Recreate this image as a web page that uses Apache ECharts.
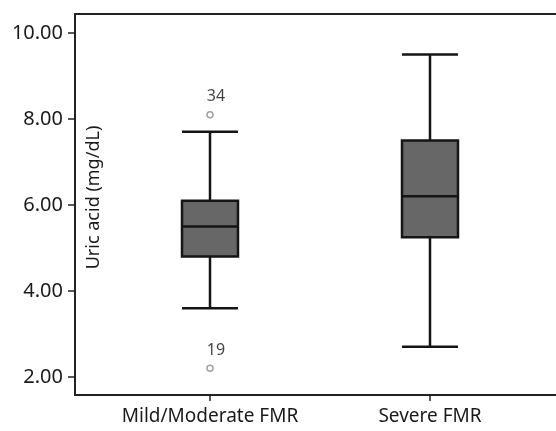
<!DOCTYPE html>
<html>
<head>
<meta charset="utf-8">
<script src="https://cdn.jsdelivr.net/npm/echarts@6/dist/echarts.min.js"></script>
<style>
  html, body { margin: 0; padding: 0; background: #fff; }
  #main { width: 556px; height: 431px; }
</style>
</head>
<body>
<div id="main"></div>
<script>
// groups on the x axis
var groups = ['Mild/Moderate FMR', 'Severe FMR'];
// [min whisker, Q1, median, Q3, max whisker]
var boxMild = [3.6, 4.8, 5.5, 6.1, 7.7];
var boxSevere = [2.7, 5.25, 6.2, 7.5, 9.5];
// outliers: group index, value, case number
var outlierGroup = [0, 0];
var outlierValue = [8.1, 2.2];
var outlierCase = ['34', '19'];
var yTicks = [2, 4, 6, 8, 10];

var font = '"Noto Sans", "DejaVu Sans", sans-serif';
var chart = echarts.init(document.getElementById('main'));

var option = {
  backgroundColor: '#fff',
  animation: false,
  grid: [
    { left: 75, top: 14, right: -30, bottom: 36 },   // frame
    { left: 100, width: 440, top: 14, bottom: 36 }    // boxes
  ],
  xAxis: [
    {
      gridIndex: 0, type: 'value', position: 'bottom',
      axisLine: { show: true, lineStyle: { color: '#222', width: 2 } },
      axisTick: { show: false }, axisLabel: { show: false }, splitLine: { show: false }
    },
    {
      gridIndex: 0, type: 'value', position: 'top',
      axisLine: { show: true, lineStyle: { color: '#222', width: 2 } },
      axisTick: { show: false }, axisLabel: { show: false }, splitLine: { show: false }
    },
    {
      gridIndex: 1, type: 'category', data: groups, position: 'bottom',
      axisLine: { show: false },
      axisTick: { show: true, interval: 0, alignWithLabel: true, length: 6, lineStyle: { color: '#222', width: 1.5 } },
      axisLabel: { interval: 0, hideOverlap: false, color: '#1a1a1a', fontSize: 19, fontFamily: font, margin: 12 },
      splitLine: { show: false }
    }
  ],
  yAxis: [
    {
      gridIndex: 0, type: 'value', min: 1.58, max: 10.44,
      axisLine: { show: true, lineStyle: { color: '#222', width: 2 } },
      axisTick: { show: true, length: 7, customValues: yTicks, lineStyle: { color: '#222', width: 1.5 } },
      axisLabel: {
        color: '#1a1a1a', fontSize: 20, fontFamily: font, margin: 12,
        customValues: yTicks,
        formatter: function (v) { return v.toFixed(2); }
      },
      splitLine: { show: false },
      name: 'Uric acid (mg/dL)',
      nameLocation: 'middle',
      nameGap: -28,
      nameTextStyle: { color: '#1a1a1a', fontSize: 18, fontFamily: font, padding: [0, 0, 0, 14] }
    },
    {
      gridIndex: 1, type: 'value', min: 1.58, max: 10.44, show: false,
      splitLine: { show: false }
    }
  ],
  series: [
    {
      type: 'boxplot',
      xAxisIndex: 2, yAxisIndex: 1,
      boxWidth: [56, 56],
      data: [boxMild, boxSevere],
      itemStyle: { color: '#676767', borderColor: '#151515', borderWidth: 2.5 }
    },
    {
      type: 'scatter',
      xAxisIndex: 2, yAxisIndex: 1,
      symbol: 'circle',
      symbolSize: 6,
      data: outlierValue.map(function (v, i) {
        return { value: [outlierGroup[i], v], name: outlierCase[i] };
      }),
      itemStyle: { color: '#fff', borderColor: '#8a8a8a', borderWidth: 1.5 },
      label: {
        show: true, position: 'top', offset: [6, -1],
        formatter: '{b}', color: '#111', fontSize: 16, fontFamily: font
      }
    }
  ]
};
chart.setOption(option);
</script>
</body>
</html>
